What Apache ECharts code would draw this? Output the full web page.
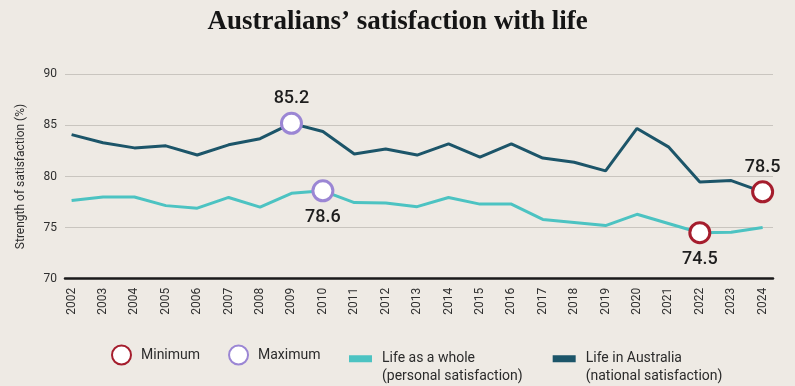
<!DOCTYPE html>
<html>
<head>
<meta charset="utf-8">
<script src="https://cdn.jsdelivr.net/npm/echarts@6/dist/echarts.min.js"></script>
<style>
html,body{margin:0;padding:0;background:#eeeae4;}
#chart{width:795px;height:386px;}
</style>
</head>
<body>
<div id="chart"></div>
<script>
const years = [2002,2003,2004,2005,2006,2007,2008,2009,2010,2011,2012,2013,2014,2015,2016,2017,2018,2019,2020,2021,2022,2023,2024];
const lifeAsWhole = [77.65,78.0,78.0,77.15,76.9,77.95,77.0,78.35,78.6,77.45,77.4,77.05,77.95,77.3,77.3,75.8,75.5,75.2,76.3,75.4,74.5,74.55,75.0];
const lifeInAustralia = [84.1,83.3,82.8,83.0,82.1,83.1,83.7,85.2,84.4,82.2,82.7,82.1,83.2,81.9,83.2,81.8,81.4,80.55,84.7,82.9,79.45,79.6,78.5];
const maxPoints = [[2009, 85.2, 'top'], [2010, 78.6, 'bottom']];
const minPoints = [[2022, 74.5, 'bottom'], [2024, 78.5, 'top']];
const yTicks = [70, 75, 80, 85, 90];
const nameWhole = 'Life as a whole\n(personal satisfaction)';
const nameAus = 'Life in Australia\n(national satisfaction)';

const font = 'Roboto, "Noto Sans", sans-serif';
const rectIcon = 'path://M0,0h23v7h-23z M0,25h0.01v0.01h-0.01z';

function pts(arr){
  return arr.map(p => ({
    value: [p[0], p[1]],
    label: {position: p[2], distance: p[2] === 'top' ? 4 : 6}
  }));
}

const chart = echarts.init(document.getElementById('chart'));
chart.setOption({
  backgroundColor: '#eeeae4',
  animation: false,
  title: {
    text: 'Australians’ satisfaction with life',
    left: 'center',
    top: 4,
    textStyle: {fontFamily: '"Liberation Serif", serif', fontWeight: 'bold', fontSize: 27, color: '#151515'}
  },
  grid: {left: 65, right: 22, top: 74.3, bottom: 107.3, containLabel: false},
  xAxis: {
    type: 'value',
    min: 2001.79,
    max: 2024.33,
    axisLine: {show: true, onZero: false, lineStyle: {color: '#1a1a1a', width: 2.5}},
    axisTick: {show: false},
    splitLine: {show: false},
    axisLabel: {
      customValues: years,
      rotate: 90,
      margin: 9,
      fontFamily: font,
      fontSize: 12,
      color: '#2f2f2f',
      formatter: v => String(v)
    }
  },
  yAxis: {
    type: 'value',
    min: yTicks[0],
    max: yTicks[yTicks.length - 1],
    interval: 5,
    name: 'Strength of satisfaction (%)',
    nameLocation: 'middle',
    nameGap: 38,
    nameTextStyle: {fontFamily: font, fontSize: 12, color: '#2f2f2f'},
    axisLine: {show: false},
    axisTick: {show: false},
    axisLabel: {margin: 8, fontFamily: font, fontSize: 12, color: '#2f2f2f'},
    splitLine: {lineStyle: {color: '#c9c5bf', width: 1}}
  },
  legend: [
    {
      data: ['Minimum', 'Maximum'],
      left: 106,
      top: 339.5,
      icon: 'circle',
      itemWidth: 19,
      itemHeight: 19,
      itemGap: 28,
      textStyle: {fontFamily: font, fontSize: 14, color: '#2b2b2b', padding: [0, 0, 0, 5]},
      selectedMode: false
    },
    {
      data: [nameWhole, nameAus],
      left: 344,
      top: 344.8,
      icon: rectIcon,
      itemWidth: 23,
      itemHeight: 25,
      itemGap: 30,
      textStyle: {fontFamily: font, fontSize: 14, lineHeight: 18, color: '#2b2b2b', padding: [0, 0, 0, 5]},
      selectedMode: false
    }
  ],
  series: [
    {
      name: nameWhole,
      type: 'line',
      data: years.map((y, i) => [y, lifeAsWhole[i]]),
      showSymbol: false,
      symbol: 'none',
      lineStyle: {color: '#4cc3c2', width: 3},
      itemStyle: {color: '#4cc3c2'},
      z: 2
    },
    {
      name: nameAus,
      type: 'line',
      data: years.map((y, i) => [y, lifeInAustralia[i]]),
      showSymbol: false,
      symbol: 'none',
      lineStyle: {color: '#1c5569', width: 3},
      itemStyle: {color: '#1c5569'},
      z: 2
    },
    {
      name: 'Minimum',
      type: 'scatter',
      data: pts(minPoints),
      symbol: 'circle',
      symbolSize: 20,
      itemStyle: {color: '#ffffff', borderColor: '#a51d2d', borderWidth: 3, opacity: 1},
      label: {show: true, fontFamily: font, fontSize: 18, fontWeight: 500, color: '#1e1e1e',
        formatter: p => p.value[1].toFixed(1)},
      z: 5
    },
    {
      name: 'Maximum',
      type: 'scatter',
      data: pts(maxPoints),
      symbol: 'circle',
      symbolSize: 20,
      itemStyle: {color: '#ffffff', borderColor: '#9b86d4', borderWidth: 3, opacity: 1},
      label: {show: true, fontFamily: font, fontSize: 18, fontWeight: 500, color: '#1e1e1e',
        formatter: p => p.value[1].toFixed(1)},
      z: 5
    }
  ]
});
</script>
</body>
</html>
